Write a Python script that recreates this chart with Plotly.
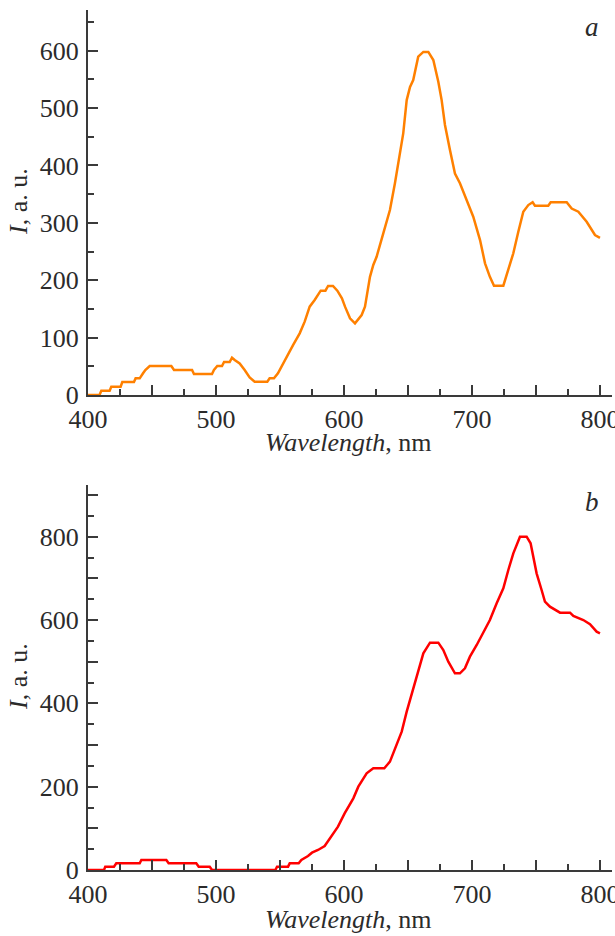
import plotly.graph_objects as go

# ---- data ----
wl_a = [400, 409, 410.4, 416.9, 418.2, 425.5, 426.8, 435.9, 437.2, 440.4, 443, 444.8, 448.2,
        465.1, 467.2, 481.3, 482.8, 496.9, 498.4, 501, 504.7, 506.3, 510.7, 512.5, 514.6,
        518.5, 522.4, 526.3, 530.2, 540.1, 541.9, 545.3, 548.4, 552.3, 556.2, 560.2, 565.4,
        569.3, 573.2, 577.1, 581.8, 585.5, 587.6, 591.4, 594.8, 598.4, 600.8, 604.7, 608.6,
        613.8, 616.4, 620.3, 622.9, 625.5, 630.7, 635.9, 639.8, 643.8, 646.3, 649, 651.6,
        654.1, 658, 662, 665.9, 669.8, 673.7, 676.3, 678.9, 682.8, 686.7, 690.6, 695.8, 701,
        706.3, 710.2, 714, 717.2, 724.5, 728.4, 732.3, 736.2, 740.1, 744, 747.4, 749.2,
        759.6, 761.5, 774, 777.9, 783.1, 789.6, 796.1, 800]
int_a = [0, 0, 7.5, 7.5, 14.5, 14.5, 22.6, 22.6, 29, 29, 37.8, 43.6, 50.5,
         50.5, 43.6, 43.6, 36.6, 36.6, 43.6, 50.5, 50.5, 57.5, 57.5, 65, 61,
         55, 43.6, 30.8, 23.2, 23.2, 29, 29, 37.8, 55, 69.7, 87, 107.5,
         127.8, 154, 165.6, 181.8, 181.8, 190, 190, 181.8, 168.5, 154, 133.6, 125,
         139.4, 154, 206, 226.6, 241, 281.8, 322.4, 369, 421, 456, 514, 537,
         549, 589.6, 598, 598, 583.8, 546, 514, 470.5, 427, 386, 369, 340, 310.7,
         270, 229.5, 206, 190.5, 190.5, 218, 247, 284.6, 319.5, 331, 336, 330,
         330, 336, 336, 325, 319.5, 302, 278.8, 274]

wl_b = [400, 412.5, 413.5, 420.3, 422.1, 440.4, 441.7, 461.2, 463, 484.6, 486.5, 495.1, 496.9,
        546.4, 547.7, 556.3, 557.6, 564.6, 566.7, 571.9, 575, 579.7, 584.9, 590.1, 595.3,
        600.5, 604.7, 607.3, 611.2, 617.7, 622.9, 631.5, 635.9, 639.8, 645.1, 649, 652.9,
        657.3, 662, 667.2, 673.7, 677.6, 681.5, 686.7, 690.6, 694.5, 698.4, 703.7, 708.8,
        714, 719.3, 724.5, 728.4, 732.3, 737.5, 742.7, 745.8, 750.5, 754.4, 757, 760.9,
        764.8, 768.8, 776.6, 779.2, 787, 792.2, 797.4, 800]
int_b = [0, 0, 8, 8, 16, 16, 24, 24, 16, 16, 8, 8, 0,
         0, 8, 8, 16, 16, 24, 33.6, 41.6, 48, 57.6, 80, 104,
         136, 160, 172, 200, 232, 244, 244, 260, 292, 332, 380, 424,
         472, 520, 545.6, 545.6, 528, 500, 472, 472, 484, 512, 540, 568,
         600, 640, 676, 720, 760, 800, 800, 784, 712, 672, 644, 632,
         624, 617.6, 617.6, 609.6, 600, 590, 572, 568]

x_major = [400, 450, 500, 550, 600, 650, 700, 750, 800]
x_labels = ["400", "", "500", "", "600", "", "700", "", "800"]
x_minor = [425, 475, 525, 575, 625, 675, 725, 775]

ya_major = [0, 100, 200, 300, 400, 500, 600]
ya_labels = ["0", "100", "200", "300", "400", "500", "600"]
ya_minor = [50, 150, 250, 350, 450, 550, 650]

yb_major = [0, 100, 200, 300, 400, 500, 600, 700, 800, 900]
yb_labels = ["0", "", "200", "", "400", "", "600", "", "800", ""]
yb_minor = [50, 150, 250, 350, 450, 550, 650, 750, 850]

# ---- layout geometry ----
W, H = 615, 936
ML, MR, MT, MB = 88, 3, 10, 66
PH = H - MT - MB
PW = W - ML - MR


def py(p):
    return (H - MB - p) / PH


def px(p):
    return (p - ML) / PW


FONT = "Liberation Serif, Times New Roman, serif"
AX = "#3a3a3a"
TXT = "#2b2b2b"
FS = 26

fig = go.Figure()
fig.add_trace(go.Scatter(x=wl_a, y=int_a, mode="lines", line=dict(color="#ff8000", width=2.5),
                         xaxis="x", yaxis="y", showlegend=False))
fig.add_trace(go.Scatter(x=wl_b, y=int_b, mode="lines", line=dict(color="#ff0000", width=2.5),
                         xaxis="x2", yaxis="y2", showlegend=False))

xcommon = dict(range=[400, 809.4], showgrid=False, zeroline=False, showline=True,
               linecolor=AX, linewidth=2, ticks="inside", ticklen=10, tickwidth=2,
               tickcolor=AX, tickmode="array", tickvals=x_major, ticktext=x_labels,
               tickfont=dict(family=FONT, size=FS, color=TXT), automargin=False,
               ticklabeloverflow="allow",
               minor=dict(ticks="inside", ticklen=6, tickwidth=1.5, tickcolor=AX,
                          tickvals=x_minor),
               ticklabelstandoff=0)
ycommon = dict(showgrid=False, zeroline=False, showline=True, linecolor=AX, linewidth=2,
               ticks="inside", ticklen=10, tickwidth=2, tickcolor=AX, tickmode="array",
               automargin=False, ticklabeloverflow="allow",
               tickfont=dict(family=FONT, size=FS, color=TXT), ticklabelstandoff=2)

fig.update_layout(
    width=W, height=H, autosize=False,
    margin=dict(l=ML, r=MR, t=MT, b=MB),
    paper_bgcolor="white", plot_bgcolor="white",
    xaxis=dict(**xcommon, domain=[0, 1], anchor="y"),
    xaxis2=dict(**xcommon, domain=[0, 1], anchor="y2"),
    yaxis=dict(**ycommon, domain=[py(395), 1.0], anchor="x", range=[0, 671],
               tickvals=ya_major, ticktext=ya_labels,
               minor=dict(ticks="inside", ticklen=6, tickwidth=1.5, tickcolor=AX, tickvals=ya_minor)),
    yaxis2=dict(**ycommon, domain=[0, py(485)], anchor="x2", range=[0, 924],
                tickvals=yb_major, ticktext=yb_labels,
                minor=dict(ticks="inside", ticklen=6, tickwidth=1.5, tickcolor=AX, tickvals=yb_minor)),
)

ann = []
for (cy_title, cy_x, letter, cy_letter) in [(202, 443, "a", 27), (677, 919, "b", 502)]:
    ann.append(dict(text="<i>I</i>, a. u.", xref="paper", yref="paper", x=px(18), y=py(cy_title),
                    textangle=-90, showarrow=False, xanchor="center", yanchor="middle",
                    font=dict(family=FONT, size=FS, color=TXT)))
    ann.append(dict(text="<i>Wavelength</i>, nm", xref="paper", yref="paper", x=px(348), y=py(cy_x),
                    showarrow=False, xanchor="center", yanchor="middle",
                    font=dict(family=FONT, size=FS, color=TXT)))
    ann.append(dict(text="<i>" + letter + "</i>", xref="paper", yref="paper", x=px(592), y=py(cy_letter),
                    showarrow=False, xanchor="center", yanchor="middle",
                    font=dict(family=FONT, size=FS + 1, color=TXT)))
fig.update_layout(annotations=ann)

fig.write_html("out.html", config={"displayModeBar": False},
               post_script="document.body.style.margin='0';document.body.style.overflow='hidden';")
